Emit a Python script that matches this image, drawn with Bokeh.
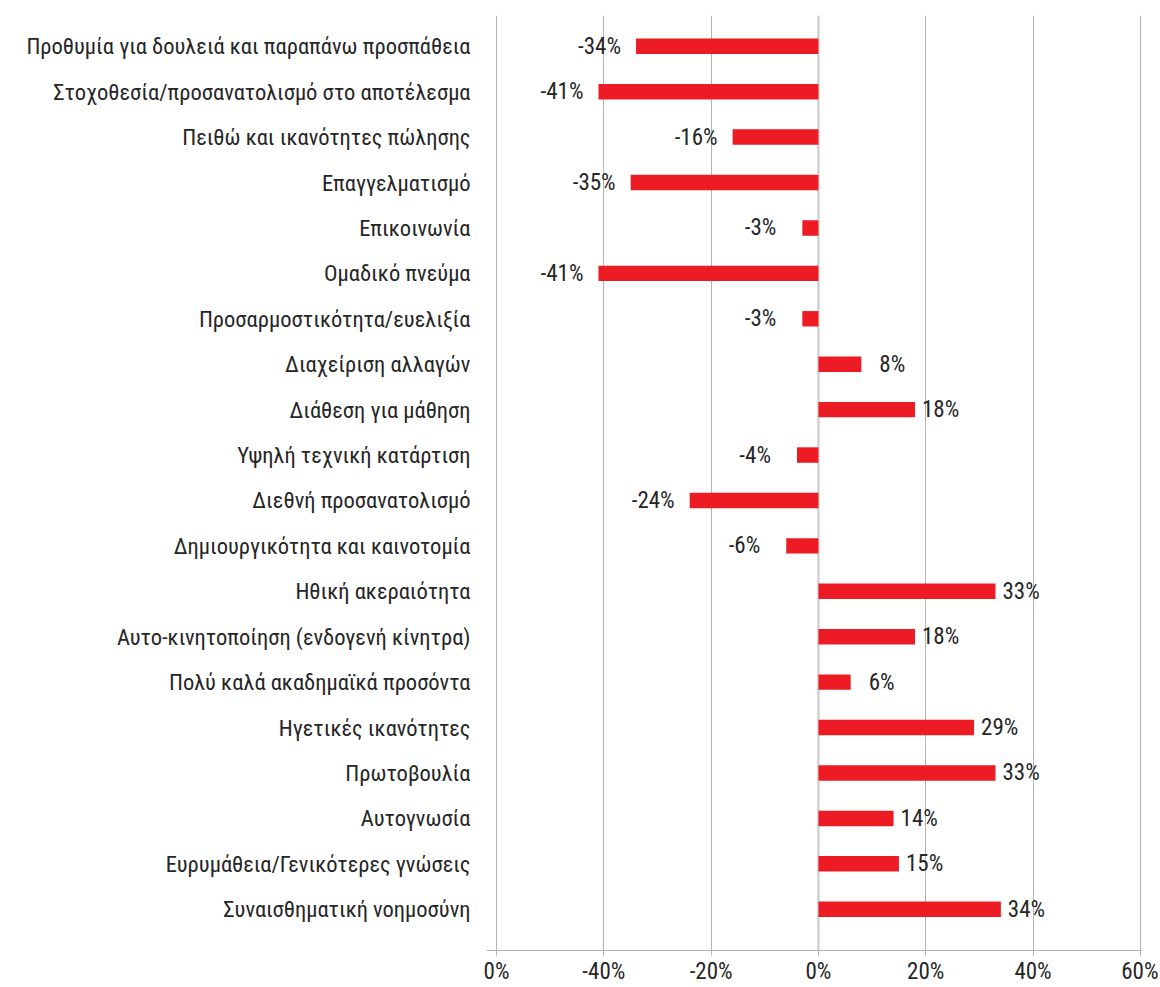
from bokeh.plotting import figure
from bokeh.models import ColumnDataSource, FixedTicker, Span, Range1d
from bokeh.core.properties import value
from bokeh.embed import file_html
from bokeh.resources import INLINE

categories = [
    "Προθυμία για δουλειά και παραπάνω προσπάθεια",
    "Στοχοθεσία/προσανατολισμό στο αποτέλεσμα",
    "Πειθώ και ικανότητες πώλησης",
    "Επαγγελματισμό",
    "Επικοινωνία",
    "Ομαδικό πνεύμα",
    "Προσαρμοστικότητα/ευελιξία",
    "Διαχείριση αλλαγών",
    "Διάθεση για μάθηση",
    "Υψηλή τεχνική κατάρτιση",
    "Διεθνή προσανατολισμό",
    "Δημιουργικότητα και καινοτομία",
    "Ηθική ακεραιότητα",
    "Αυτο-κινητοποίηση (ενδογενή κίνητρα)",
    "Πολύ καλά ακαδημαϊκά προσόντα",
    "Ηγετικές ικανότητες",
    "Πρωτοβουλία",
    "Αυτογνωσία",
    "Ευρυμάθεια/Γενικότερες γνώσεις",
    "Συναισθηματική νοημοσύνη",
]
values = [-34, -41, -16, -35, -3, -41, -3, 8, 18, -4, -24, -6, 33, 18, 6, 29, 33, 14, 15, 34]
x_ticks = [-60, -40, -20, 0, 20, 40, 60]
x_tick_labels = ["0%", "-40%", "-20%", "0%", "20%", "40%", "60%"]

FONT = "Roboto Condensed"
TXT = "#262626"
n = len(categories)
ypos = [n - 1 - i for i in range(n)]
labels = [f"{v}%" for v in values]
aligns = ["right" if v < 0 else "left" for v in values]
offsets = []
for v in values:
    extra = 11 if abs(v) < 10 else 0
    offsets.append(-(15 + extra) if v < 0 else (7 + extra))

src = ColumnDataSource(dict(y=ypos, v=values, lab=labels, al=aligns, off=offsets))

p = figure(width=1158, height=987, output_backend="svg", toolbar_location=None,
           x_range=Range1d(-61.87, 60.4), y_range=Range1d(-0.908, n - 1 + 0.677),
           min_border_left=486, min_border_right=16, min_border_top=15, min_border_bottom=36)
p.outline_line_color = None
p.background_fill_color = "white"

p.xgrid.grid_line_color = "#b4b4b4"
p.xgrid.grid_line_width = 1
p.xgrid.ticker = FixedTicker(ticks=x_ticks)
p.ygrid.grid_line_color = None

p.add_layout(Span(location=0, dimension="height", line_color="#d2d2d2", line_width=2.5, level="underlay"))

p.hbar(y="y", left=0, right="v", height=0.34, source=src, color="#ED1C24", line_color=None)
p.text(x="v", y="y", text="lab", text_align="al", x_offset="off", text_baseline="middle",
       source=src, text_font=value(FONT), text_font_size="23px", text_color=TXT)

xa = p.xaxis[0]
xa.ticker = FixedTicker(ticks=x_ticks)
xa.major_label_overrides = {t: l for t, l in zip(x_ticks, x_tick_labels)}
xa.axis_line_color = "#b4b4b4"
xa.major_tick_line_color = "#b4b4b4"
xa.major_tick_in = 0
xa.major_tick_out = 5
xa.minor_tick_line_color = None
xa.major_label_text_font = FONT
xa.major_label_text_font_size = "23px"
xa.major_label_text_color = TXT
xa.major_label_standoff = 2

ya = p.yaxis[0]
ya.ticker = FixedTicker(ticks=ypos)
ya.major_label_overrides = {y: c for y, c in zip(ypos, categories)}
ya.axis_line_color = None
ya.major_tick_line_color = None
ya.major_tick_out = 0
ya.major_tick_in = 0
ya.minor_tick_line_color = None
ya.major_label_text_font = FONT
ya.major_label_text_font_size = "22.5px"
ya.major_label_text_color = TXT
ya.major_label_standoff = 16

open("out.html", "w").write(file_html(p, INLINE))
